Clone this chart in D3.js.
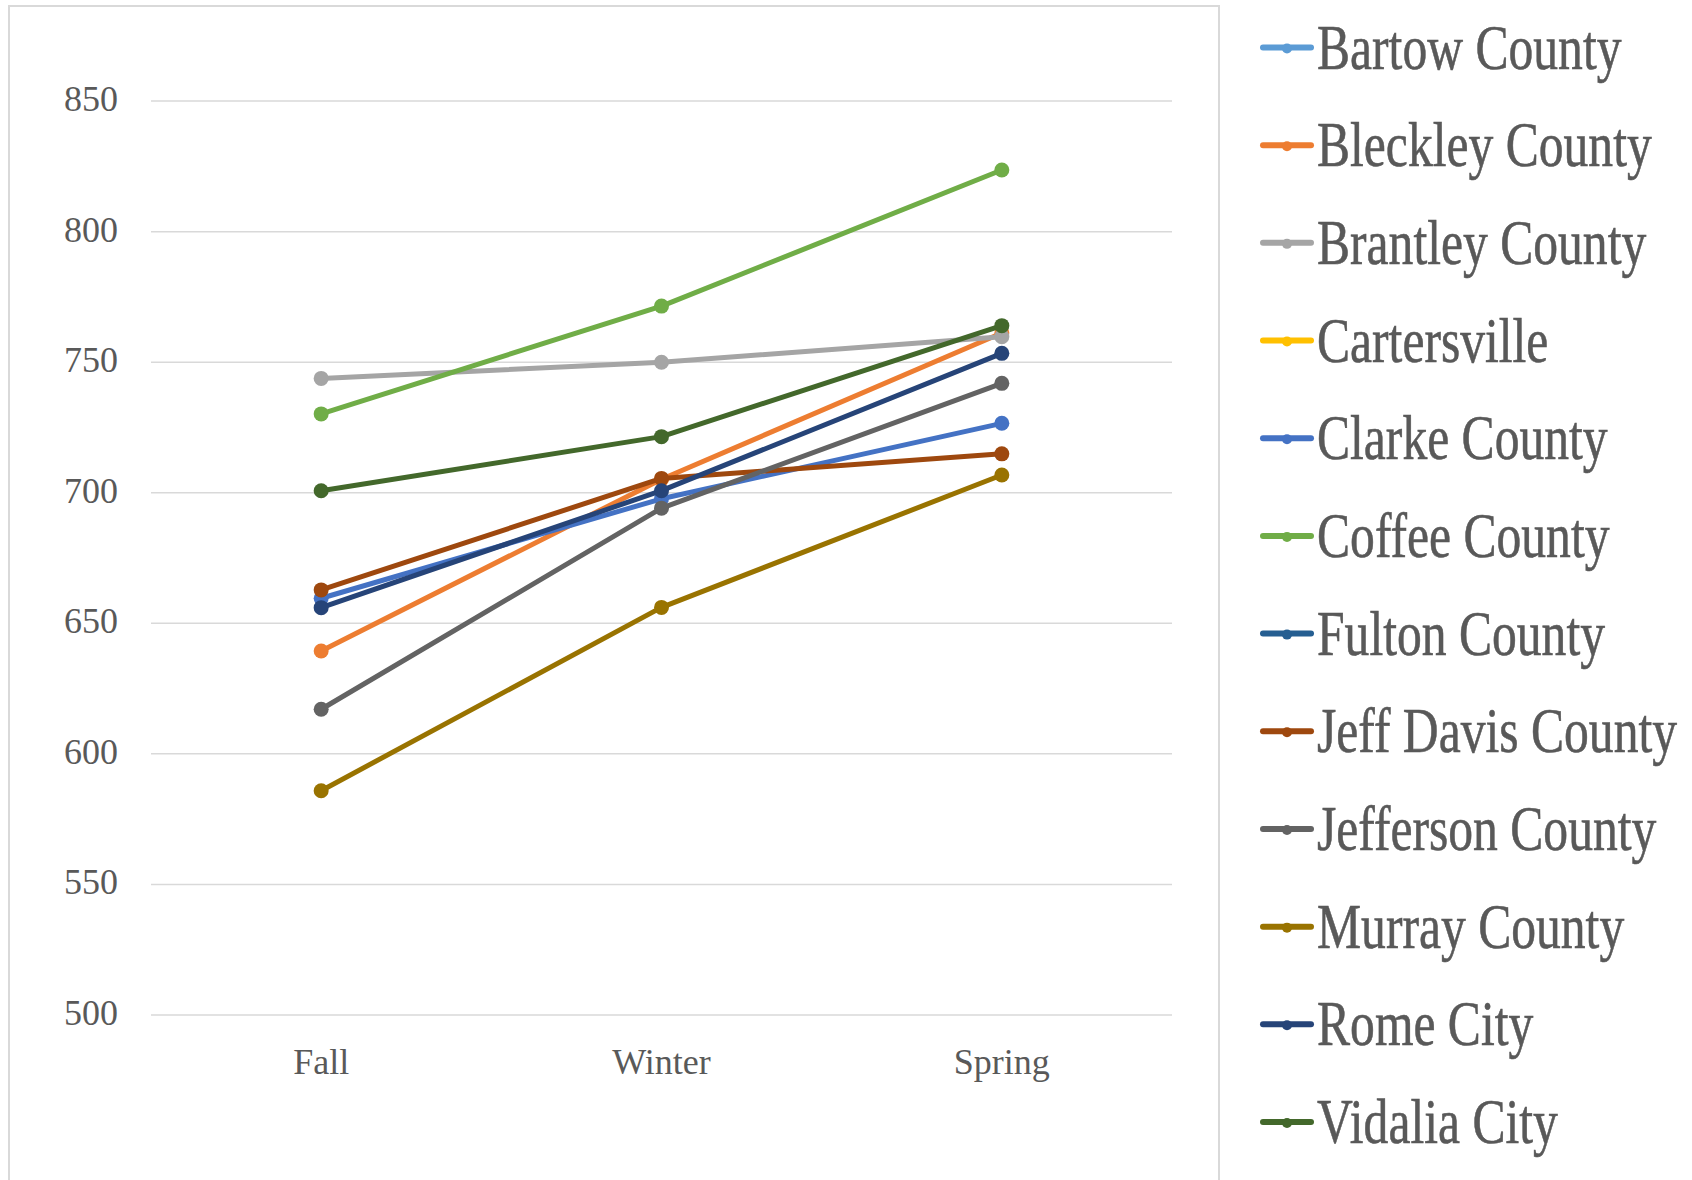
<!DOCTYPE html>
<html>
<head>
<meta charset="utf-8">
<script src="https://cdn.jsdelivr.net/npm/d3@7"></script>
<style>
  html, body { margin: 0; padding: 0; background: #ffffff; }
  svg { display: block; }
</style>
</head>
<body>
<svg id="chart" width="1692" height="1180"></svg>
<script>
// ---- data ----
const seasons = ["Fall", "Winter", "Spring"];
const yTicks = [500, 550, 600, 650, 700, 750, 800, 850];
const districts = ["Bartow County", "Bleckley County", "Brantley County", "Cartersville",
  "Clarke County", "Coffee County", "Fulton County", "Jeff Davis County",
  "Jefferson County", "Murray County", "Rome City", "Vidalia City"];
const colors = ["#5B9BD5", "#ED7D31", "#A5A5A5", "#FFC000", "#4472C4", "#70AD47",
  "#255E91", "#9E480E", "#636363", "#997300", "#264478", "#43682B"];
const bartow = [null, null, null];
const bleckley = [639.2, 705, 761];
const brantley = [743.6, 749.8, 759.6];
const cartersville = [null, null, null];
const clarke = [659.4, 697.5, 726.4];
const coffee = [730, 771.3, 823.4];
const fulton = [null, null, null];
const jeffDavis = [662.6, 705.3, 714.7];
const jefferson = [616.9, 693.9, 741.7];
const murray = [585.7, 655.9, 706.6];
const rome = [655.8, 700.6, 753.2];
const vidalia = [700.6, 721.3, 763.8];
const seriesValues = [bartow, bleckley, brantley, cartersville, clarke, coffee,
  fulton, jeffDavis, jefferson, murray, rome, vidalia];

// ---- layout ----
const svg = d3.select("#chart");
const plot = { left: 151, right: 1172, top: 100.6, bottom: 1014.45 };

const x = d3.scaleBand().domain(seasons).range([plot.left, plot.right]);
const y = d3.scaleLinear().domain([500, 850]).range([plot.bottom, plot.top]);

// chart area border
svg.append("rect")
  .attr("x", 9).attr("y", 6).attr("width", 1210).attr("height", 1200)
  .attr("fill", "none").attr("stroke", "#d9d9d9").attr("stroke-width", 2);

// gridlines + y labels via axis
const yAxis = svg.append("g")
  .attr("transform", `translate(${plot.left},0)`)
  .call(d3.axisLeft(y).tickValues(yTicks).tickSize(-(plot.right - plot.left)).tickPadding(33).tickFormat(d3.format("d")));
yAxis.select(".domain").remove();
yAxis.selectAll(".tick line").attr("stroke", "#d9d9d9").attr("stroke-width", 1.5);
yAxis.selectAll(".tick text")
  .attr("fill", "#595959")
  .attr("dy", "0.28em")
  .style("font-family", "'Liberation Serif', 'Times New Roman', serif")
  .style("font-size", "36px");

// x labels via axis
const xAxis = svg.append("g")
  .attr("transform", `translate(0,${plot.bottom})`)
  .call(d3.axisBottom(x).tickSize(0).tickPadding(34));
xAxis.select(".domain").remove();
xAxis.selectAll(".tick text")
  .attr("fill", "#595959")
  .style("font-family", "'Liberation Serif', 'Times New Roman', serif")
  .style("font-size", "36px");

// series
const series = districts.map((name, i) => ({
  name, color: colors[i],
  points: seasons.map((s, j) => ({ season: s, value: seriesValues[i][j] }))
}));

const line = d3.line()
  .defined(d => d.value != null)
  .x(d => x(d.season) + x.bandwidth() / 2)
  .y(d => y(d.value));

const g = svg.append("g");
series.forEach(s => {
  const sg = g.append("g");
  sg.append("path")
    .datum(s.points)
    .attr("d", line)
    .attr("fill", "none")
    .attr("stroke", s.color)
    .attr("stroke-width", 5)
    .attr("stroke-linejoin", "round")
    .attr("stroke-linecap", "round");
  sg.selectAll("circle")
    .data(s.points.filter(d => d.value != null))
    .join("circle")
    .attr("cx", d => x(d.season) + x.bandwidth() / 2)
    .attr("cy", d => y(d.value))
    .attr("r", 7.5)
    .attr("fill", s.color);
});

// legend
const legendY = d3.scalePoint().domain(districts).range([47.5, 1122]);
const lg = svg.append("g");
series.forEach(s => {
  const ly = legendY(s.name);
  lg.append("line")
    .attr("x1", 1263).attr("x2", 1311)
    .attr("y1", ly).attr("y2", ly)
    .attr("stroke", s.color).attr("stroke-width", 6).attr("stroke-linecap", "round");
  lg.append("circle")
    .attr("cx", 1287).attr("cy", ly + 1).attr("r", 5).attr("fill", s.color);
  lg.append("text")
    .attr("transform", `translate(1317,${ly + 21}) scale(0.775,1)`)
    .attr("fill", "#595959")
    .style("font-family", "'Liberation Serif', 'Times New Roman', serif")
    .style("font-size", "64px")
    .style("stroke", "#595959")
    .style("stroke-width", 0.6)
    .text(s.name);
});
</script>
</body>
</html>
